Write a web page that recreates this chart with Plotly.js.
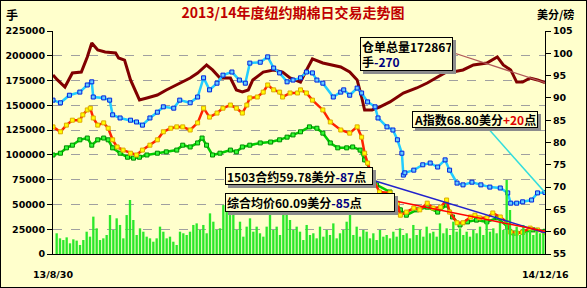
<!DOCTYPE html>
<html><head><meta charset="utf-8">
<script src="https://cdn.plot.ly/plotly-3.0.1.min.js"></script>
<style>body{margin:0;background:#fff}#chart{width:585px;height:286px;border:1px solid #000;}</style>
</head><body><div id="chart"></div>
<script>
const dateLabels = ["13/8/30", "14/12/16"];
const lastDay = 330;

const receiptDay = [0,3,8,13,19,23,26,30,35,42,44,48,52,55,58,63,70,76,83,92,97,103,107,112,119,123,127,131,134,141,148,154,159,166,169,174,181,188,193,199,204,207,209,214,219,226,235,244,251,258,264,268,275,282,291,298,302,307,311,315,320,325,330];
const receiptVal = [180600,175600,168500,182600,183600,198800,212900,205800,203800,202800,197800,195700,175600,165500,155400,157400,160400,165500,170500,177600,182600,190700,185700,177600,177600,165500,163500,165500,175600,183600,185700,183600,177600,173500,182600,196800,192700,190700,188700,183600,175600,158400,145300,145300,148300,153400,162400,167500,172500,178600,183600,183600,185700,190700,192700,198800,190700,185700,173500,173500,177600,175600,172867];

const aIndexDay = [0,5,11,18,23,26,27,34,38,40,45,52,56,60,65,70,74,81,85,92,97,101,105,110,114,120,125,129,132,139,144,148,152,157,161,166,170,174,177,181,188,193,195,199,204,207,211,216,218,224,228,231,234,235,236,242,248,253,258,263,266,271,275,281,287,293,300,305,307,311,315,321,325,330];
const aIndexVal = [89.5,88.9,90.6,91.3,92.9,93.6,90.2,90.0,89.5,86.2,85.5,85.0,84.6,83.9,85.5,86.8,88.0,87.7,89.5,88.9,90.2,94.5,91.8,93.3,95.1,95.8,94.0,93.3,97.8,98.0,99.2,96.7,95.6,93.6,94.0,94.5,95.8,95.6,94.0,93.3,90.2,91.3,91.8,90.6,92.2,91.1,89.1,88.0,85.5,83.5,82.8,80.6,77.6,72.7,73.2,73.8,75.0,75.4,74.5,76.1,73.8,70.9,70.5,71.1,70.5,70.0,69.8,68.7,66.4,66.4,66.7,67.1,68.7,68.8];

const c1503Day = [0,5,9,13,18,20,23,25,27,30,34,37,40,43,47,52,56,60,65,70,74,79,83,87,92,97,101,105,110,114,119,123,127,130,132,137,141,144,148,152,154,159,164,166,170,174,181,186,193,199,204,207,209,211,215,219,226,231,233,237,242,246,251,255,260,264,266,271,275,280,283,286,291,295,300,305,307,311,315,320,325,330];
const c1503Val = [83.5,82.4,83.9,85.0,85.0,86.2,87.3,87.7,85.5,83.9,84.4,83.2,80.6,79.0,78.3,77.6,77.2,78.3,79.4,80.6,82.4,83.2,83.5,83.5,82.8,84.4,87.7,85.7,86.6,87.7,88.4,87.7,86.6,88.4,90.0,90.2,91.3,92.9,91.8,91.3,90.2,91.1,91.1,91.8,91.1,89.5,87.3,84.6,82.8,82.1,83.5,81.2,77.6,75.4,71.6,68.9,68.7,66.4,63.7,64.4,65.3,64.9,66.4,65.3,65.5,67.1,64.4,62.0,62.0,63.3,63.7,63.1,63.1,64.2,63.3,62.0,59.9,59.7,59.9,60.8,60.4,59.78];

const avgDay = [0,5,9,13,18,23,26,30,34,37,40,45,50,54,58,63,70,76,83,87,92,97,100,103,107,112,119,123,127,132,139,146,152,157,161,166,172,177,181,186,191,197,201,206,209,213,217,226,233,237,244,251,258,264,268,273,278,284,291,298,305,309,315,322,330];
const avgVal = [77.2,77.6,78.8,79.4,80.6,81.0,79.4,80.6,81.0,80.6,78.8,77.6,76.7,76.5,76.7,77.2,77.6,77.9,78.3,79.4,79.0,79.9,81.0,79.4,77.2,77.6,78.3,77.9,79.0,79.4,79.9,80.1,80.6,81.2,81.7,82.4,83.5,83.2,82.1,79.9,78.8,78.8,79.0,78.3,76.1,73.8,70.5,68.9,64.9,63.7,64.9,65.5,64.4,66.0,63.3,61.5,62.2,62.6,62.2,63.1,61.1,59.7,59.9,60.4,60.09];

const volume = [20900,15800,14100,16800,10800,14800,13500,9100,14100,22500,17500,37700,25900,14100,15800,19200,39300,24200,36000,29300,15800,39300,54500,34300,19200,25900,22500,17500,15800,12400,15800,27600,22500,15800,17500,12400,9100,22500,20900,19200,22500,29300,30900,24200,29300,20900,41000,32600,24200,25900,49400,47800,39300,51100,24200,32600,17500,27600,36000,22500,27600,20900,17500,27600,41000,24200,27600,19200,41000,47800,34300,24200,27600,
22500,14100,29300,19200,20900,15800,27600,17500,24200,19200,30900,15800,20900,24200,32600,41000,19200,27600,17500,24200,22500,15800,20900,14100,24200,17500,19200,15800,22500,17500,25900,19200,20900,15800,29300,19200,24200,17500,27600,20900,22500,17500,30900,20900,25900,19200,32600,22500,25900,19200,22500,17500,24200,20900,27600,19200,32600,22500,25900,20900,32600,24200,74700,44400,20900,27600,19200,29300,22500,24200,19200,25900,20900,20900];

const boxTexts = [
  "仓单总量172867<br>手<span style=\"color:#000080\">-270</span>",
  "A指数68.80美分<span style=\"color:#E00000\">+20</span>点",
  "1503合约59.78美分<span style=\"color:#000080\">-87</span>点",
  "综合均价60.09美分<span style=\"color:#000080\">-85</span>点"
];

const last = a => a[a.length - 1];
const bg = '#FFFFCC';
const tickFont = {family: 'DejaVu Sans', size: 9.5, color: '#000', weight: 'bold'};
const boxFont = {family: 'Noto Sans CJK SC', size: 12, color: '#000', weight: 'bold'};

const traces = [
  {type: 'bar', x: volume.map((_, i) => i), y: volume, xaxis: 'x2', yaxis: 'y',
   marker: {color: '#2BE82B', line: {width: 0}}, hoverinfo: 'skip'},
  {type: 'scatter', mode: 'lines+markers', x: avgDay, y: avgVal, yaxis: 'y2',
   line: {color: '#00CC00', width: 2.5}, marker: {symbol: 'square', size: 4, color: '#33FF33', line: {color: '#008800', width: 1}}},
  {type: 'scatter', mode: 'lines+markers', x: c1503Day, y: c1503Val, yaxis: 'y2',
   line: {color: '#FF2200', width: 2.5}, marker: {symbol: 'square', size: 4, color: '#FFFF00', line: {color: '#DDAA00', width: 1}}},
  {type: 'scatter', mode: 'lines+markers', x: aIndexDay, y: aIndexVal, yaxis: 'y2',
   line: {color: '#22CCFF', width: 2.5}, marker: {symbol: 'square', size: 4, color: '#66CCFF', line: {color: '#0022DD', width: 1}}},
  {type: 'scatter', mode: 'lines', x: receiptDay, y: receiptVal, yaxis: 'y',
   line: {color: '#800000', width: 3}}
];

function pxX(px) { return (px - 53) * lastDay / 492; }
function pxY1(py) { return (254 - py) * 225000 / 223; }
function pxY2(py) { return 55 + (254 - py) * 50 / 223; }

const shapes = [
  {type: 'line', xref: 'x', yref: 'y', x0: pxX(451), y0: pxY1(52), x1: last(receiptDay), y1: last(receiptVal), line: {color: '#B05858', width: 1.2}},
  {type: 'line', xref: 'x', yref: 'y2', x0: pxX(486), y0: pxY2(126), x1: last(aIndexDay), y1: last(aIndexVal), line: {color: '#33DDDD', width: 1.5}},
  {type: 'line', xref: 'x', yref: 'y2', x0: pxX(372), y0: pxY2(180), x1: last(c1503Day), y1: last(c1503Val), line: {color: '#2222CC', width: 1.5}},
  {type: 'line', xref: 'x', yref: 'y2', x0: pxX(395), y0: pxY2(201), x1: last(avgDay), y1: last(avgVal), line: {color: '#FF0000', width: 1.5}}
];

// box layout: left, top, outer width, outer height (pixels in the page)
const boxGeom = [[360, 37, 93, 34], [412, 111, 126, 17], [225, 167, 148, 18], [225, 193, 170, 19]];
const annotations = [];
boxTexts.forEach((t, i) => {
  const [l, tp, w, h] = boxGeom[i];
  shapes.push({type: 'rect', xref: 'paper', yref: 'paper', layer: 'above',
    x0: (l + 3 - 53) / 492, x1: (l + w + 3 - 53) / 492, y0: (254 - (tp + h + 3)) / 223, y1: (254 - (tp + 3)) / 223,
    fillcolor: '#8C8C8C', line: {width: 0}});
  annotations.push({xref: 'paper', yref: 'paper', x: (l - 53) / 492, y: (254 - tp) / 223,
    xanchor: 'left', yanchor: 'top', showarrow: false, align: 'left', valign: 'middle',
    width: w - 4, height: h - 4, borderpad: 1, borderwidth: 1, bordercolor: '#000', bgcolor: bg,
    font: boxFont, text: t});
});
annotations.push({xref: 'paper', yref: 'paper', x: (12 - 53) / 492, y: (254 - 14) / 223, text: '手', showarrow: false,
  font: {family: 'Noto Sans CJK SC', size: 12, color: '#000', weight: 'bold'}, xanchor: 'center', yanchor: 'middle'});
annotations.push({xref: 'paper', yref: 'paper', x: (555 - 53) / 492, y: (254 - 14) / 223, text: '美分/磅', showarrow: false,
  font: {family: 'Noto Sans CJK SC', size: 11, color: '#000', weight: 'bold'}, xanchor: 'center', yanchor: 'middle'});
annotations.push({xref: 'x', yref: 'paper', x: 0, y: -(274 - 254) / 223, text: dateLabels[0], showarrow: false,
  font: tickFont, xanchor: 'center', yanchor: 'middle'});
annotations.push({xref: 'x', yref: 'paper', x: lastDay, y: -(274 - 254) / 223, text: dateLabels[1], showarrow: false,
  font: tickFont, xanchor: 'center', yanchor: 'middle'});

const layout = {
  width: 585, height: 286,
  margin: {l: 52, r: 41, t: 30, b: 33},
  paper_bgcolor: bg, plot_bgcolor: bg,
  showlegend: false, bargap: 0.3,
  title: {text: '2013/14年度纽约期棉日交易走势图', x: 292 / 585, xref: 'container', xanchor: 'center',
    y: 1 - 12 / 286, yref: 'container', yanchor: 'middle',
    font: {family: 'Noto Sans CJK SC', size: 14, color: '#C00000', weight: 'bold'}},
  xaxis: {range: [0, lastDay], showticklabels: false, ticks: '', showgrid: false, zeroline: false,
    showline: true, linecolor: '#000', linewidth: 1},
  xaxis2: {overlaying: 'x', range: [-1.1, 146.5], visible: false},
  yaxis: {range: [0, 225000], dtick: 25000, tickformat: 'd', tickfont: tickFont, ticks: 'outside', ticklen: 5, tickcolor: '#000',
    showline: true, linecolor: '#000', linewidth: 1, zeroline: false,
    showgrid: true, gridcolor: '#A0A0A0', griddash: 'dash', gridwidth: 1},
  yaxis2: {range: [55, 105], dtick: 5, overlaying: 'y', side: 'right', tickfont: tickFont, ticks: 'outside', ticklen: 5,
    tickcolor: '#000', showline: true, linecolor: '#000', linewidth: 1, showgrid: false, zeroline: false},
  shapes: shapes, annotations: annotations
};
Plotly.newPlot('chart', traces, layout, {staticPlot: true, displayModeBar: false});
</script>
</body></html>
